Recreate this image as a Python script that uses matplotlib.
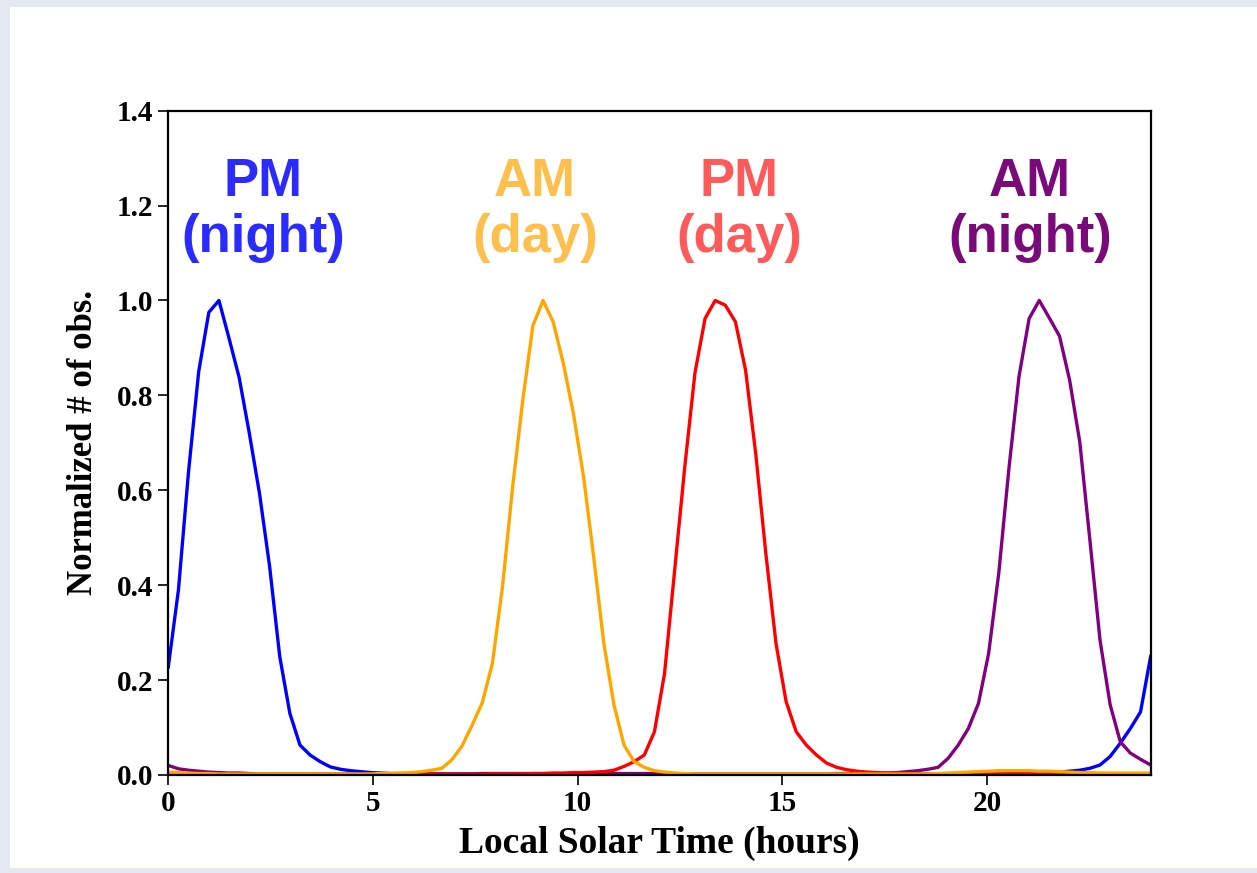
import numpy as np
import matplotlib
matplotlib.use("Agg")
import matplotlib.pyplot as plt
from matplotlib.patches import Rectangle

# Normalized number of observations vs local solar time (98 bins over 24 h)
pm_night = [0.228, 0.39, 0.64, 0.85, 0.975, 1.0, 0.92, 0.837, 0.72, 0.594,
            0.44, 0.25, 0.13, 0.063, 0.042, 0.028, 0.017, 0.012, 0.009, 0.007,
            0.005, 0.004, 0.003, 0.003, 0.002, 0.002, 0.002, 0.002, 0.002, 0.002,
            0.002, 0.001, 0.001, 0.001, 0.001, 0.001, 0.001, 0.001, 0.001, 0.001,
            0.001, 0.001, 0.001, 0.001, 0.001, 0.001, 0.001, 0.001, 0.001, 0.001,
            0.001, 0.001, 0.001, 0.001, 0.001, 0.001, 0.001, 0.001, 0.001, 0.001,
            0.001, 0.001, 0.001, 0.001, 0.001, 0.001, 0.001, 0.001, 0.001, 0.001,
            0.001, 0.001, 0.001, 0.001, 0.001, 0.001, 0.001, 0.001, 0.001, 0.001,
            0.002, 0.002, 0.002, 0.003, 0.003, 0.004, 0.004, 0.005, 0.006, 0.008,
            0.010, 0.014, 0.021, 0.039, 0.067, 0.098, 0.133, 0.25]

am_day = [0.006, 0.005, 0.004, 0.003, 0.003, 0.002, 0.002, 0.002, 0.002, 0.002,
          0.002, 0.002, 0.002, 0.002, 0.002, 0.002, 0.002, 0.002, 0.002, 0.002,
          0.002, 0.003, 0.003, 0.004, 0.005, 0.007, 0.010, 0.014, 0.032, 0.061,
          0.105, 0.152, 0.235, 0.397, 0.607, 0.79, 0.947, 1.0, 0.955, 0.868,
          0.762, 0.629, 0.46, 0.278, 0.148, 0.063, 0.028, 0.016, 0.009, 0.006,
          0.004, 0.003, 0.002, 0.002, 0.002, 0.002, 0.002, 0.002, 0.002, 0.002,
          0.002, 0.002, 0.002, 0.002, 0.002, 0.002, 0.002, 0.002, 0.002, 0.002,
          0.002, 0.002, 0.002, 0.002, 0.002, 0.002, 0.003, 0.004, 0.005, 0.006,
          0.007, 0.008, 0.009, 0.009, 0.009, 0.009, 0.008, 0.008, 0.007, 0.006,
          0.005, 0.005, 0.004, 0.004, 0.004, 0.004, 0.004, 0.004]

pm_day = [0.003, 0.002, 0.002, 0.002, 0.001, 0.001, 0.001, 0.001, 0.001, 0.001,
          0.001, 0.001, 0.001, 0.001, 0.001, 0.001, 0.001, 0.001, 0.001, 0.001,
          0.001, 0.001, 0.001, 0.001, 0.001, 0.001, 0.001, 0.001, 0.001, 0.001,
          0.001, 0.001, 0.002, 0.002, 0.002, 0.002, 0.003, 0.003, 0.004, 0.004,
          0.005, 0.005, 0.006, 0.007, 0.010, 0.018, 0.028, 0.042, 0.091, 0.214,
          0.432, 0.65, 0.847, 0.962, 1.0, 0.99, 0.955, 0.853, 0.678, 0.467,
          0.278, 0.155, 0.091, 0.063, 0.042, 0.025, 0.016, 0.011, 0.008, 0.006,
          0.005, 0.004, 0.004, 0.003, 0.002, 0.002, 0.002, 0.002, 0.002, 0.002,
          0.002, 0.002, 0.002, 0.002, 0.002, 0.002, 0.002, 0.002, 0.002, 0.002,
          0.002, 0.002, 0.002, 0.002, 0.002, 0.002, 0.002, 0.002]

am_night = [0.020, 0.013, 0.010, 0.008, 0.006, 0.005, 0.004, 0.004, 0.003, 0.002,
            0.002, 0.002, 0.002, 0.002, 0.002, 0.002, 0.002, 0.002, 0.002, 0.002,
            0.002, 0.002, 0.002, 0.002, 0.002, 0.002, 0.002, 0.002, 0.002, 0.002,
            0.002, 0.003, 0.003, 0.003, 0.003, 0.003, 0.003, 0.003, 0.003, 0.003,
            0.003, 0.003, 0.003, 0.003, 0.003, 0.003, 0.003, 0.003, 0.003, 0.003,
            0.003, 0.002, 0.002, 0.002, 0.002, 0.002, 0.002, 0.002, 0.002, 0.002,
            0.002, 0.002, 0.002, 0.002, 0.002, 0.002, 0.003, 0.003, 0.003, 0.003,
            0.003, 0.004, 0.005, 0.007, 0.009, 0.012, 0.016, 0.035, 0.063, 0.098,
            0.151, 0.256, 0.425, 0.645, 0.84, 0.962, 1.0, 0.963, 0.925, 0.832,
            0.702, 0.495, 0.284, 0.148, 0.07, 0.046, 0.033, 0.021]

hours = np.linspace(0, 24, len(pm_night))

labels = ["PM\n(night)", "AM\n(day)", "PM\n(day)", "AM\n(night)"]
label_x = [2.31, 8.96, 13.94, 21.05]
label_colors = ["#2b2bff", "#ffbf4d", "#ff5a5a", "#7a0a7a"]

fig = plt.figure(figsize=(12.57, 8.73), dpi=100, facecolor="#e4e8f0")
fig.add_artist(Rectangle((10 / 1257, 5 / 873), 1247 / 1257, 861 / 873,
                         transform=fig.transFigure, facecolor="white",
                         edgecolor="none", zorder=0))

ax = fig.add_axes([0.1339, 0.1123, 0.7815, 0.7609])
lw = 2.4
ax.plot(hours, pm_night, color="blue", lw=lw)
ax.plot(hours, am_night, color="purple", lw=lw)
ax.plot(hours, pm_day, color="red", lw=lw)
ax.plot(hours, am_day, color="orange", lw=lw)

for txt, xx, cc in zip(labels, label_x, label_colors):
    ax.text(xx, 1.19, txt, color=cc, ha="center", va="center",
            fontsize=38, fontweight="bold", family="Liberation Sans",
            linespacing=1.15)

ax.set_xlim(0, 24)
ax.set_ylim(0, 1.4)
ax.set_xticks([0, 5, 10, 15, 20])
ax.set_yticks(np.arange(0, 1.41, 0.2))
ax.set_yticklabels(["%.1f" % v for v in np.arange(0, 1.41, 0.2)])

serif = "Liberation Serif"
for lab in ax.get_xticklabels() + ax.get_yticklabels():
    lab.set_family(serif)
    lab.set_fontweight("bold")
    lab.set_fontsize(21)
ax.tick_params(direction="out", length=7, width=1.2, pad=4)
for s in ax.spines.values():
    s.set_linewidth(1.6)

ax.set_xlabel("Local Solar Time (hours)", family=serif, fontweight="bold",
              fontsize=27, labelpad=6)
ax.set_ylabel("Normalized # of obs.", family=serif, fontweight="bold",
              fontsize=25, labelpad=12)

fig.savefig("out.png", dpi=100, facecolor=fig.get_facecolor())
